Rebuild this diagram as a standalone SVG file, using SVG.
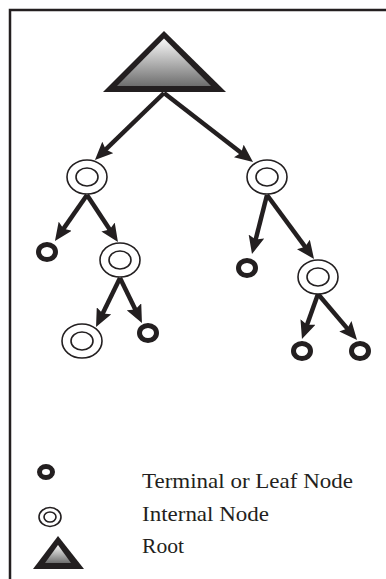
<svg xmlns="http://www.w3.org/2000/svg" width="386" height="579" viewBox="0 0 386 579">
<style>
.frame{fill:none;stroke:#231f20;stroke-width:2.5}
.edge{stroke:#231f20;stroke-width:4.5;fill:none;marker-end:url(#ah)}
.io{fill:#fff;stroke:#231f20;stroke-width:1.6}
.leaf{fill:#fff;stroke:#231f20;stroke-width:5}
.tri{fill:#231f20}
.lbl{font-family:"Liberation Serif","Times New Roman",serif;font-size:21px;fill:#231f20}
</style>
<defs>
<linearGradient id="g" x1="0" y1="0" x2="0" y2="1">
<stop offset="0" stop-color="#f8f8f8"/>
<stop offset="1" stop-color="#6e6e6e"/>
</linearGradient>
<marker id="ah" markerUnits="userSpaceOnUse" markerWidth="19" markerHeight="16" refX="9" refY="8" orient="auto">
<path d="M0,0 L18,8 L0,16 L3,8 z" fill="#231f20"/>
</marker>
</defs>
<path class="frame" d="M10,579 V10 H386"/>
<g id="connectors">
<line class="edge" x1="164" y1="93" x2="101.4" y2="153.7"/>
<line class="edge" x1="164" y1="93" x2="245.9" y2="156.5"/>
<line class="edge" x1="87" y1="195" x2="60.1" y2="233.6"/>
<line class="edge" x1="87" y1="195" x2="113" y2="234.5"/>
<line class="edge" x1="120" y1="278" x2="100" y2="318.9"/>
<line class="edge" x1="120" y1="278" x2="138" y2="314.9"/>
<line class="edge" x1="267" y1="195" x2="254.2" y2="245.3"/>
<line class="edge" x1="267" y1="195" x2="308.7" y2="251.7"/>
<line class="edge" x1="318" y1="294" x2="305" y2="330.5"/>
<line class="edge" x1="318" y1="294" x2="351.2" y2="333.1"/>
</g>
<g id="root">
<polygon class="tri" points="164,31 103,92 226,92"/>
<polygon fill="url(#g)" points="164,38.5 117,86 211,86"/>
</g>
<g id="int1"><ellipse class="io" cx="87" cy="177" rx="20" ry="17"/><ellipse class="io" cx="87" cy="177" rx="11" ry="9"/></g>
<g id="int2"><ellipse class="io" cx="267" cy="177" rx="20" ry="17"/><ellipse class="io" cx="267" cy="177" rx="11" ry="9"/></g>
<g id="int3"><ellipse class="io" cx="120" cy="260" rx="20" ry="17"/><ellipse class="io" cx="120" cy="260" rx="11" ry="9"/></g>
<g id="int4"><ellipse class="io" cx="82" cy="341" rx="20" ry="17"/><ellipse class="io" cx="82" cy="341" rx="11" ry="9"/></g>
<g id="int5"><ellipse class="io" cx="318" cy="277" rx="20" ry="17"/><ellipse class="io" cx="318" cy="277" rx="11" ry="9"/></g>
<g id="leaf1"><ellipse class="leaf" cx="47" cy="252" rx="8.5" ry="7.5"/></g>
<g id="leaf2"><ellipse class="leaf" cx="148" cy="333" rx="8.5" ry="7.5"/></g>
<g id="leaf3"><ellipse class="leaf" cx="247" cy="268" rx="8.5" ry="7.5"/></g>
<g id="leaf4"><ellipse class="leaf" cx="302" cy="351" rx="8.5" ry="7.5"/></g>
<g id="leaf5"><ellipse class="leaf" cx="360" cy="351" rx="8.5" ry="7.5"/></g>
<g id="legend">
<ellipse class="leaf" cx="46" cy="472" rx="6.5" ry="5.5" stroke-width="4.5"/>
<ellipse class="io" cx="50" cy="517" rx="11" ry="9.5"/>
<ellipse class="io" cx="50" cy="517" rx="6" ry="5"/>
<polygon class="tri" points="58,536 33,569 84,569"/>
<polygon fill="url(#g)" points="58,545 45,563 71,563"/>
<text class="lbl" x="142" y="488" textLength="211" lengthAdjust="spacingAndGlyphs">Terminal or Leaf Node</text>
<text class="lbl" x="142" y="521" textLength="127" lengthAdjust="spacingAndGlyphs">Internal Node</text>
<text class="lbl" x="142" y="553" textLength="42" lengthAdjust="spacingAndGlyphs">Root</text>
</g>
</svg>
